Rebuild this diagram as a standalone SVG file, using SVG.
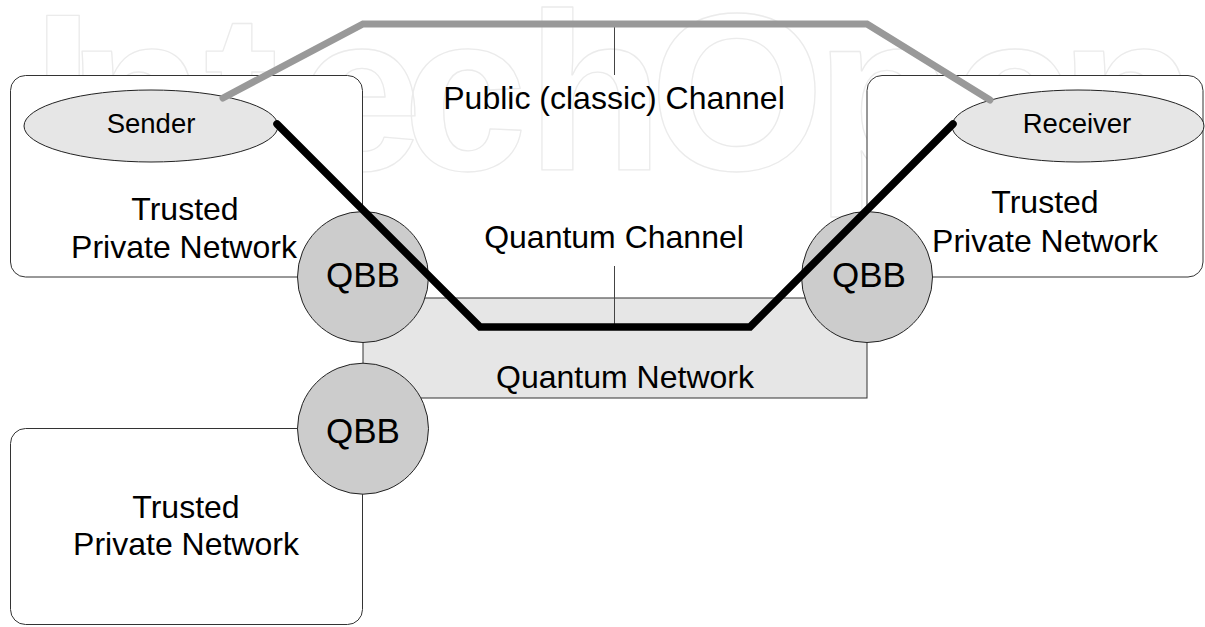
<svg xmlns="http://www.w3.org/2000/svg" width="1205" height="627" viewBox="0 0 1205 627">
<defs>
<style>
.wm{font-family:"Liberation Sans",Arial,sans-serif;font-size:225px;font-weight:bold;text-anchor:middle;fill:none;stroke:#ebebeb;stroke-width:1.3;stroke-linejoin:round}
.box{fill:#fff;stroke:#333;stroke-width:1}
.qnet{fill:#e6e6e6;stroke:#333;stroke-width:1}
.ell{fill:#e6e6e6;stroke:#222;stroke-width:1}
.qbb{fill:#cccccc;stroke:#222;stroke-width:1}
.thin{stroke:#444;stroke-width:1;fill:none}
.classic{stroke:#999;stroke-width:7;fill:none;stroke-linecap:round;stroke-linejoin:miter}
.quantum{stroke:#000;stroke-width:7.5;fill:none;stroke-linecap:round;stroke-linejoin:miter}
.lbl{font-family:"Liberation Sans",Arial,sans-serif;font-size:32px;text-anchor:middle;fill:#000}
.sm{font-size:27.5px}
.q{font-size:35px}
</style>
</defs>
<rect width="1205" height="627" fill="#fff"/>
<g id="watermark">
<text class="wm" y="170"><tspan x="63">I</tspan><tspan x="136">n</tspan><tspan x="241">t</tspan><tspan x="360">e</tspan><tspan x="465">c</tspan><tspan x="595">h</tspan><tspan x="737">O</tspan><tspan x="884">p</tspan><tspan x="1013">e</tspan><tspan x="1128">n</tspan></text>
</g>
<g id="network-sender">
<rect class="box" x="10.5" y="75.5" width="352" height="201.5" rx="15"/>
<text class="lbl" x="185" y="220">Trusted</text>
<text class="lbl" x="184" y="258">Private Network</text>
</g>
<g id="network-receiver">
<rect class="box" x="867" y="75.5" width="336" height="201.5" rx="15"/>
<text class="lbl" x="1045" y="213">Trusted</text>
<text class="lbl" x="1045" y="251.5">Private Network</text>
</g>
<g id="network-bottom">
<rect class="box" x="10.5" y="428.5" width="352" height="196" rx="15"/>
<text class="lbl" x="186" y="518">Trusted</text>
<text class="lbl" x="186" y="555">Private Network</text>
</g>
<g id="quantum-network">
<rect class="qnet" x="363" y="298" width="504" height="100"/>
<text class="lbl" x="625" y="388">Quantum Network</text>
</g>
<g id="connectors">
<line class="thin" x1="614.5" y1="24" x2="614.5" y2="75"/>
<line class="thin" x1="614.5" y1="266" x2="614.5" y2="327"/>
</g>
<g id="qbb-left">
<circle class="qbb" cx="363" cy="277" r="65.5"/>
<text class="lbl q" x="363" y="287">QBB</text>
</g>
<g id="qbb-bottom">
<circle class="qbb" cx="363" cy="428.7" r="65.5"/>
<text class="lbl q" x="363" y="443">QBB</text>
</g>
<g id="qbb-right">
<circle class="qbb" cx="867" cy="277" r="65.5"/>
<text class="lbl q" x="869" y="287">QBB</text>
</g>
<g id="sender">
<ellipse class="ell" cx="151" cy="126" rx="127" ry="36"/>
<text class="lbl sm" x="151" y="133">Sender</text>
</g>
<g id="receiver">
<ellipse class="ell" cx="1078" cy="126" rx="126" ry="36"/>
<text class="lbl sm" x="1077" y="133">Receiver</text>
</g>
<g id="channels">
<path class="classic" d="M223,98 L363,24 L867,24 L990,100"/>
<path class="quantum" d="M277,124 L480,327 L750,327 L953,124"/>
</g>
<g id="channel-labels">
<text class="lbl" x="614" y="109">Public (classic) Channel</text>
<text class="lbl" x="614" y="248">Quantum Channel</text>
</g>
</svg>
